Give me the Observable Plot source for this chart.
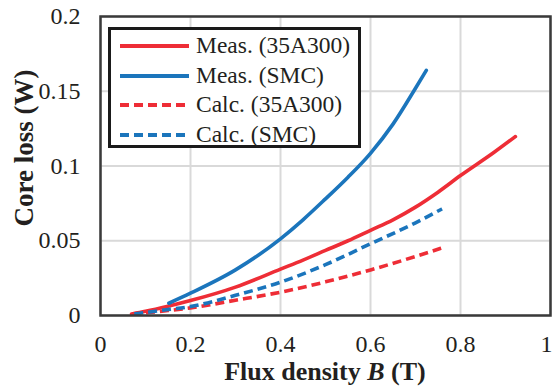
<!DOCTYPE html>
<html><head><meta charset="utf-8">
<script src="https://cdn.jsdelivr.net/npm/d3@7"></script>
<script src="https://cdn.jsdelivr.net/npm/@observablehq/plot@0.6"></script>
<style>
body{margin:0;background:#fff}
#wrap{position:relative;width:554px;height:386px;overflow:hidden}
#legend{position:absolute;left:108px;top:27px;width:247px;height:115px;border:3px solid #1a1a1a;background:#fff;font-family:"Liberation Serif","Times New Roman",serif;font-size:23.5px;color:#231f20}
#legend .row{position:absolute;left:0;height:30px;width:247px}
#legend svg{position:absolute;left:9px;top:0}
#legend span{position:absolute;left:85px;top:50%;transform:translateY(-52%);white-space:nowrap;line-height:1}
</style></head>
<body><div id="wrap"><div id="legend"></div></div>
<script>
// Data
const seriesNames = ["Meas. (35A300)", "Meas. (SMC)", "Calc. (35A300)", "Calc. (SMC)"];
const seriesColors = ["#ee2d36", "#1b75bc", "#ee2d36", "#1b75bc"];
const seriesDashed = [false, false, true, true];

const B_meas35 = [0.069, 0.1, 0.15, 0.2, 0.3, 0.4, 0.45, 0.5, 0.55, 0.6, 0.65, 0.7, 0.75, 0.8, 0.874, 0.922];
const P_meas35 = [0.001, 0.0028, 0.0062, 0.0100, 0.019, 0.031, 0.037, 0.0435, 0.050, 0.057, 0.064, 0.0725, 0.0825, 0.0936, 0.109, 0.1197];

const B_measSMC = [0.152, 0.2, 0.3, 0.4, 0.45, 0.5, 0.55, 0.6, 0.65, 0.7, 0.724];
const P_measSMC = [0.0082, 0.0149, 0.0305, 0.0513, 0.064, 0.078, 0.0925, 0.1085, 0.128, 0.152, 0.164];

const B_calc35 = [0.07, 0.1, 0.15, 0.2, 0.3, 0.4, 0.5, 0.6, 0.7, 0.757];
const P_calc35 = [0.001, 0.0018, 0.0033, 0.0051, 0.0102, 0.0156, 0.0225, 0.0305, 0.0395, 0.045];

const B_calcSMC = [0.075, 0.1, 0.15, 0.2, 0.3, 0.4, 0.5, 0.6, 0.7, 0.759];
const P_calcSMC = [0.001, 0.002, 0.004, 0.006, 0.0135, 0.0223, 0.034, 0.048, 0.062, 0.0713];

const xTicks = [0, 0.2, 0.4, 0.6, 0.8, 1];
const yTicks = [0, 0.05, 0.1, 0.15, 0.2];
const xTitleParts = ["Flux density ", "B", " (T)"];
const yTitle = "Core loss (W)";

const seriesB = [B_meas35, B_measSMC, B_calc35, B_calcSMC];
const seriesP = [P_meas35, P_measSMC, P_calc35, P_calcSMC];
const rows = seriesNames.flatMap((name, i) =>
  seriesB[i].map((b, j) => ({series: name, idx: i, B: b, P: seriesP[i][j]})));

const font = '"Liberation Serif","Times New Roman",serif';
const lineMarks = seriesNames.map((name, i) =>
  Plot.line(rows.filter(d => d.idx === i), {
    x: "B", y: "P", stroke: seriesColors[i], strokeWidth: 3.6,
    curve: "monotone-x",
    strokeDasharray: seriesDashed[i] ? "9,5" : null,
    strokeLinecap: seriesDashed[i] ? "butt" : "round"
  }));

const chart = Plot.plot({
  width: 554, height: 386,
  marginLeft: 100, marginRight: 4, marginTop: 16, marginBottom: 71,
  style: {fontFamily: font, fontSize: "24px", color: "#231f20", background: "#fff"},
  x: {domain: [0, 1]},
  y: {domain: [0, 0.2]},
  marks: [
    Plot.gridX(xTicks, {stroke: "#d9d9d9", strokeOpacity: 1, strokeWidth: 2}),
    Plot.gridY(yTicks, {stroke: "#d9d9d9", strokeOpacity: 1, strokeWidth: 2}),
    ...lineMarks,
    Plot.frame({stroke: "#3a3a3a", strokeWidth: 2.5}),
    Plot.axisX(xTicks.slice(0, -1), {tickSize: 0, tickPadding: 19, tickFormat: d => String(d), label: null, fontSize: 24}),
    Plot.axisX(xTicks.slice(-1), {tickSize: 0, tickPadding: 19, tickFormat: d => String(d), label: null, fontSize: 24, dx: -4}),
    Plot.axisY(yTicks, {tickSize: 0, tickPadding: 20, tickFormat: d => String(d), label: null, fontSize: 24})
  ]
});

const svg = d3.select(chart);
const xt = svg.append("text")
  .attr("x", 325).attr("y", 380)
  .attr("text-anchor", "middle")
  .attr("font-family", font).attr("font-size", 26).attr("font-weight", "bold").attr("fill", "#231f20");
xTitleParts.forEach((t, i) => xt.append("tspan").attr("font-style", i === 1 ? "italic" : "normal").text(t));
svg.append("text")
  .attr("transform", "translate(33,148) rotate(-90)")
  .attr("text-anchor", "middle")
  .attr("font-family", font).attr("font-size", 27).attr("font-weight", "bold").attr("fill", "#231f20")
  .text(yTitle);

document.getElementById("wrap").prepend(chart);

// Legend
const legend = d3.select("#legend");
seriesNames.forEach((name, i) => {
  const row = legend.append("div").attr("class", "row").style("top", (i * 29.7 + 1) + "px");
  const s = row.append("svg").attr("width", 72).attr("height", 30);
  s.append("line").attr("x1", 0).attr("x2", 69).attr("y1", 15).attr("y2", 15)
    .attr("stroke", seriesColors[i]).attr("stroke-width", 4)
    .attr("stroke-dasharray", seriesDashed[i] ? "9,5" : null);
  row.append("span").text(name);
});
</script>
</body></html>
